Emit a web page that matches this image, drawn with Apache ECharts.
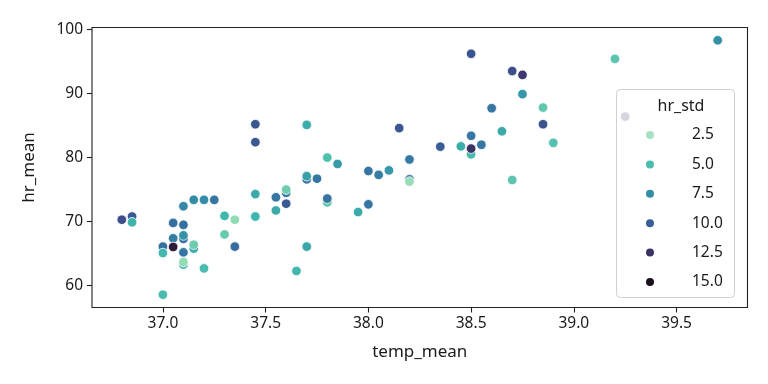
<!DOCTYPE html>
<html><head><meta charset="utf-8">
<script src="https://cdn.jsdelivr.net/npm/echarts@6/dist/echarts.min.js"></script>
<style>html,body{margin:0;padding:0;background:#fff}#c{width:768px;height:384px}</style>
</head><body><div id="c"></div>
<script>
const tempMean = [37.10,37.10,37.15,37.60,37.70,37.80,38.20,38.50,
36.80,36.85,36.85,37.00,37.00,37.00,37.05,37.05,37.05,37.10,37.10,37.10,37.10,37.10,
37.15,37.15,37.20,37.20,37.25,37.30,37.30,37.35,37.35,37.45,37.45,37.45,37.45,
37.55,37.55,37.60,37.60,37.65,37.70,37.70,37.70,37.75,37.80,37.80,37.85,37.95,
38.00,38.00,38.05,38.10,38.15,38.20,38.20,38.35,38.45,38.50,38.50,38.50,38.55,
38.60,38.65,38.70,38.70,38.75,38.75,38.85,38.85,38.90,39.20,39.25,39.70];
const hrMean = [67.3,63.3,65.8,74.5,76.6,73.0,76.6,80.5,
70.3,70.8,69.9,66.1,65.1,58.6,69.8,67.4,66.05,72.4,69.5,67.85,65.2,63.7,
73.4,66.4,73.4,62.7,73.4,70.9,68.0,70.3,66.1,85.2,82.4,74.3,70.8,
73.8,71.75,75.0,72.8,62.3,85.1,77.1,66.1,76.7,80.0,73.6,79.0,71.5,
77.9,72.7,77.3,78.0,84.6,79.7,76.25,81.7,81.75,96.2,83.4,81.4,82.0,
87.7,84.1,93.5,76.5,92.9,89.9,87.8,85.2,82.3,95.4,86.4,98.3];
const hrStd = [8.8,5.5,6.0,8.5,8.8,4.3,9.0,5.0,
10.8,10.2,5.5,9.0,5.2,5.0,9.0,8.3,14.0,7.8,9.0,7.2,8.8,3.0,
7.6,4.0,7.6,5.0,8.7,5.3,4.2,3.0,9.2,10.3,10.3,6.0,5.4,
8.8,6.0,4.0,10.2,5.2,5.8,6.5,6.2,8.7,4.8,8.8,6.8,6.0,
8.8,8.8,8.3,7.0,10.3,8.5,2.8,10.0,5.8,10.5,8.7,12.5,8.7,
8.8,6.0,10.8,4.5,12.0,7.0,4.3,10.6,4.7,4.5,13.0,7.3];
const xTicks = [37.0,37.5,38.0,38.5,39.0,39.5];
const yTicks = [60,70,80,90,100];
const legendValues = [2.5,5.0,7.5,10.0,12.5,15.0];

// mako_r colormap
const makoR = ['#DEF5E5','#8BDAB2','#40B7AD','#348FA7','#37659E','#413D7B','#2E1E3B','#0B0405'];
const hueMin = 1.0, hueMax = 16.0;
function hex2rgb(h){return [parseInt(h.slice(1,3),16),parseInt(h.slice(3,5),16),parseInt(h.slice(5,7),16)];}
function hueColor(v){
  let t = (v - hueMin)/(hueMax - hueMin);
  t = Math.max(0, Math.min(1, t));
  const p = t*(makoR.length-1);
  const i = Math.min(Math.floor(p), makoR.length-2);
  const f = p - i;
  const a = hex2rgb(makoR[i]), b = hex2rgb(makoR[i+1]);
  const c = a.map((x,k)=>Math.round(x + (b[k]-x)*f));
  return 'rgb(' + c.join(',') + ')';
}

const pts = tempMean.map((x,i)=>[x, hrMean[i], hrStd[i]]);
const font = 'Noto Sans';
const txt = '#1a1a1a';

const series = [{
  type: 'scatter',
  name: 'data',
  data: pts,
  symbolSize: 9.6,
  z: 2,
  itemStyle: {
    color: p => hueColor(p.value[2]),
    borderColor: '#fff',
    borderWidth: 0.8,
    opacity: 1
  }
}];
legendValues.forEach(v => {
  series.push({type:'scatter', name: v.toFixed(1), data: [], itemStyle: {color: hueColor(v), borderColor:'#fff', borderWidth:0.8, opacity: 1}});
});

const chart = echarts.init(document.getElementById('c'), null, {renderer:'canvas'});
chart.setOption({
  animation: false,
  backgroundColor: '#fff',
  grid: {left: 92, right: 20.5, top: 27.5, bottom: 76.5, show: true, borderColor: '#222', borderWidth: 1.1, backgroundColor: 'transparent'},
  xAxis: {
    type: 'value', min: 36.655, max: 39.845,
    name: 'temp_mean', nameLocation: 'middle', nameGap: 36,
    nameTextStyle: {fontFamily: font, fontSize: 17, color: txt},
    axisLine: {show: false},
    splitLine: {show: false},
    axisTick: {show: true, length: 5, lineStyle: {color: '#222', width: 1.1}, customValues: xTicks},
    axisLabel: {fontFamily: font, fontSize: 15.5, color: txt, margin: 8, customValues: xTicks, formatter: v => v.toFixed(1)}
  },
  yAxis: {
    type: 'value', min: 56.6, max: 100.3,
    name: 'hr_mean', nameLocation: 'middle', nameGap: 54, nameRotate: 90,
    nameTextStyle: {fontFamily: font, fontSize: 17, color: txt},
    axisLine: {show: false},
    splitLine: {show: false},
    axisTick: {show: true, length: 5, lineStyle: {color: '#222', width: 1.1}, customValues: yTicks},
    axisLabel: {fontFamily: font, fontSize: 15.5, color: txt, margin: 9, customValues: yTicks, formatter: v => String(v)}
  },
  legend: {
    orient: 'vertical', left: 644, top: 127, z: 200,
    data: legendValues.map(v => v.toFixed(1)),
    icon: 'circle', itemWidth: 10, itemHeight: 10, itemGap: 13.4,
    selectedMode: false,
    itemStyle: {opacity: 1},
    textStyle: {fontFamily: font, fontSize: 15.5, color: txt, lineHeight: 16, padding: [0,0,0,32]},
    padding: 0
  },
  title: {
    text: 'hr_std', left: 676, top: 93, textAlign: 'center', z: 200,
    textStyle: {fontFamily: font, fontSize: 16, fontWeight: 'normal', color: txt}
  },
  graphic: [{
    type: 'rect', z: 100,
    shape: {x: 616.5, y: 89.5, width: 118, height: 208, r: 4},
    style: {fill: 'rgba(255,255,255,0.8)', stroke: '#d0d0d0', lineWidth: 1}
  }],
  series: series
});
</script></body></html>
